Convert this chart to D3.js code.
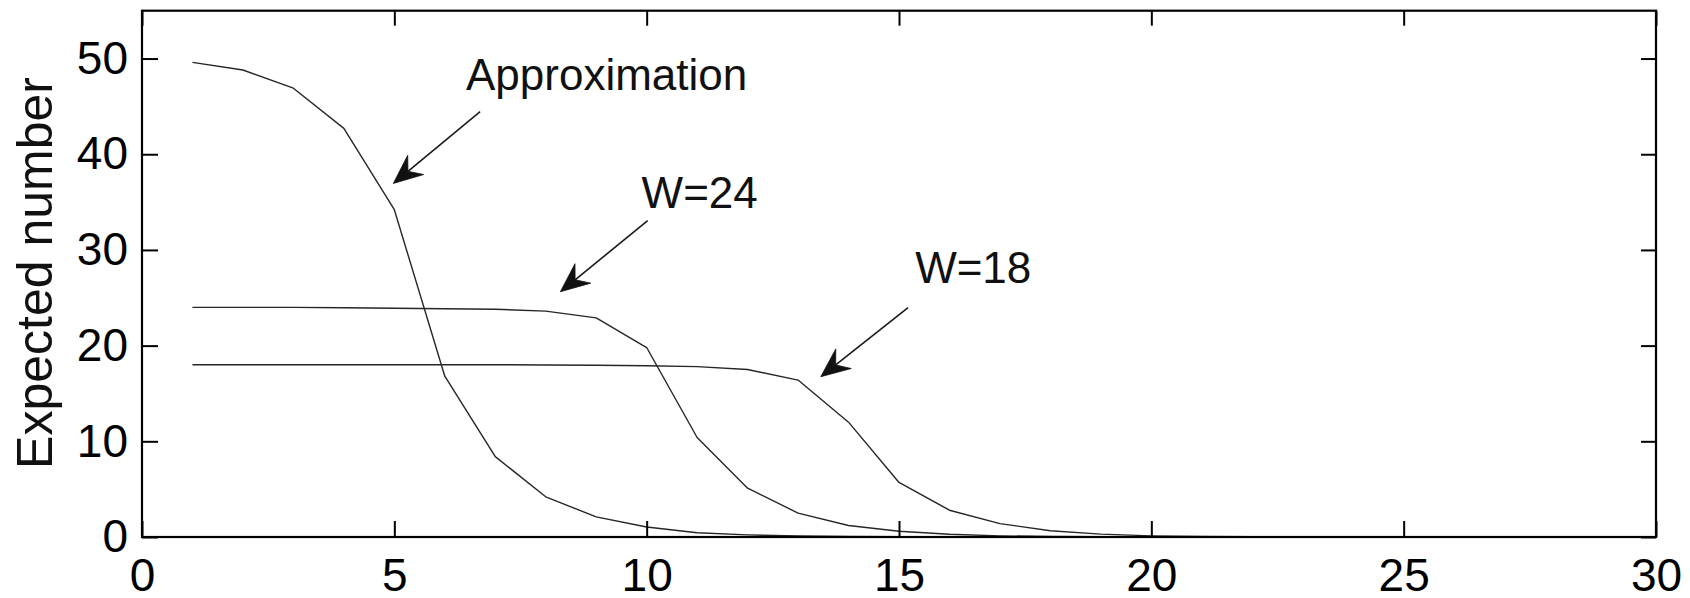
<!DOCTYPE html>
<html>
<head>
<meta charset="utf-8">
<script src="https://cdn.jsdelivr.net/npm/d3@7"></script>
<style>
  html, body { margin: 0; padding: 0; background: #fff; }
  svg { display: block; font-family: "Liberation Sans", Arial, Helvetica, sans-serif; }
</style>
</head>
<body>
<svg id="chart" width="1690" height="598"></svg>
<script>
// Window sizes W (x axis)
const windowSizes = [1, 2, 3, 4, 5, 6, 7, 8, 9, 10, 11, 12, 13, 14, 15,
                     16, 17, 18, 19, 20, 21, 22, 23, 24, 25, 26, 27, 28, 29, 30];

// Expected number, one array per curve
const approximation = [49.6, 48.8, 46.9, 42.7, 34.2, 16.8, 8.4, 4.2, 2.1, 1.05,
                       0.45, 0.22, 0.1, 0.05, 0.02, 0.01, 0, 0, 0, 0,
                       0, 0, 0, 0, 0, 0, 0, 0, 0, 0];
const w24 = [24, 24, 24, 23.95, 23.9, 23.85, 23.8, 23.6, 22.9, 19.8,
             10.4, 5.1, 2.5, 1.2, 0.6, 0.28, 0.12, 0.05, 0.02, 0.01,
             0, 0, 0, 0, 0, 0, 0, 0, 0, 0];
const w18 = [18, 18, 18, 18, 18, 18, 18, 17.98, 17.95, 17.9,
             17.8, 17.5, 16.4, 12.0, 5.7, 2.8, 1.4, 0.66, 0.3, 0.12,
             0.05, 0.02, 0, 0, 0, 0, 0, 0, 0, 0];

const xTicks = [0, 5, 10, 15, 20, 25, 30];
const yTicks = [0, 10, 20, 30, 40, 50];
const yLabel = "Expected number";

// Annotation labels with arrows, in data units
const annoLabels = ["Approximation", "W=24", "W=18"];
const annoText   = [[6.42, 46.7], [9.90, 34.35], [15.32, 26.5]];
const annoFrom   = [[6.70, 44.45], [10.02, 33.05], [15.18, 23.96]];
const annoTo     = [[4.98, 36.95], [8.29, 25.63], [13.45, 16.75]];

const svg = d3.select("#chart");
const plotLeft = 142, plotRight = 1656, plotTop = 10.7, plotBottom = 537;

const x = d3.scaleLinear().domain([0, 30]).range([plotLeft, plotRight]);
const y = d3.scaleLinear().domain([0, 55]).range([plotBottom, plotTop]);

const fontSize = 46;

// Curves
const line = d3.line()
  .x((d, i) => x(windowSizes[i]))
  .y(d => y(d));

[approximation, w24, w18].forEach(series => {
  svg.append("path")
    .datum(series)
    .attr("fill", "none")
    .attr("stroke", "#262626")
    .attr("stroke-width", 1.4)
    .attr("stroke-linejoin", "round")
    .attr("d", line);
});

// Axes with inward ticks (box style)
const axisStyle = g => {
  g.select(".domain").remove();
  g.selectAll(".tick line").attr("stroke", "#000").attr("stroke-width", 2);
  g.selectAll(".tick text").attr("fill", "#000").attr("font-size", fontSize)
    .attr("font-family", "Liberation Sans, Arial, Helvetica, sans-serif");
};

svg.append("g")
  .attr("transform", `translate(0,${plotBottom})`)
  .call(d3.axisBottom(x).tickValues(xTicks).tickFormat(d3.format("d"))
        .tickSizeInner(-16).tickSizeOuter(0).tickPadding(21))
  .call(axisStyle);

svg.append("g")
  .attr("transform", `translate(0,${plotTop})`)
  .call(d3.axisTop(x).tickValues(xTicks).tickFormat("")
        .tickSizeInner(-15).tickSizeOuter(0))
  .call(axisStyle);

svg.append("g")
  .attr("transform", `translate(${plotLeft},0)`)
  .call(d3.axisLeft(y).tickValues(yTicks).tickFormat(d3.format("d"))
        .tickSizeInner(-16).tickSizeOuter(0).tickPadding(14))
  .call(axisStyle);

svg.append("g")
  .attr("transform", `translate(${plotRight},0)`)
  .call(d3.axisRight(y).tickValues(yTicks).tickFormat("")
        .tickSizeInner(-15).tickSizeOuter(0))
  .call(axisStyle);

// Frame
svg.append("rect")
  .attr("x", plotLeft).attr("y", plotTop)
  .attr("width", plotRight - plotLeft).attr("height", plotBottom - plotTop)
  .attr("fill", "none").attr("stroke", "#000").attr("stroke-width", 2.2);

// Y axis title
svg.append("text")
  .attr("transform", `translate(52,273) rotate(-90)`)
  .attr("text-anchor", "middle")
  .attr("font-size", 50)
  .attr("fill", "#111")
  .text(yLabel);

// Annotations: label + arrow with a notched filled head
annoLabels.forEach((label, i) => {
  svg.append("text")
    .attr("x", x(annoText[i][0]))
    .attr("y", y(annoText[i][1]))
    .attr("font-size", 44)
    .attr("fill", "#111")
    .text(label);

  const x0 = x(annoFrom[i][0]), y0 = y(annoFrom[i][1]);
  const x1 = x(annoTo[i][0]), y1 = y(annoTo[i][1]);
  const dx = x0 - x1, dy = y0 - y1;
  const len = Math.hypot(dx, dy);
  const ux = dx / len, uy = dy / len;   // unit vector back along the shaft
  const px = -uy, py = ux;              // perpendicular
  const headLen = 29, halfW = 12.5, notch = 19;

  svg.append("line")
    .attr("x1", x0).attr("y1", y0)
    .attr("x2", x1 + ux * notch).attr("y2", y1 + uy * notch)
    .attr("stroke", "#1a1a1a").attr("stroke-width", 1.6);

  const head = [
    [x1, y1],
    [x1 + ux * headLen + px * halfW, y1 + uy * headLen + py * halfW],
    [x1 + ux * notch, y1 + uy * notch],
    [x1 + ux * headLen - px * halfW, y1 + uy * headLen - py * halfW]
  ];
  svg.append("path")
    .attr("d", d3.line()(head) + "Z")
    .attr("fill", "#111")
    .attr("stroke", "#111")
    .attr("stroke-width", 0.8)
    .attr("stroke-linejoin", "miter");
});
</script>
</body>
</html>
